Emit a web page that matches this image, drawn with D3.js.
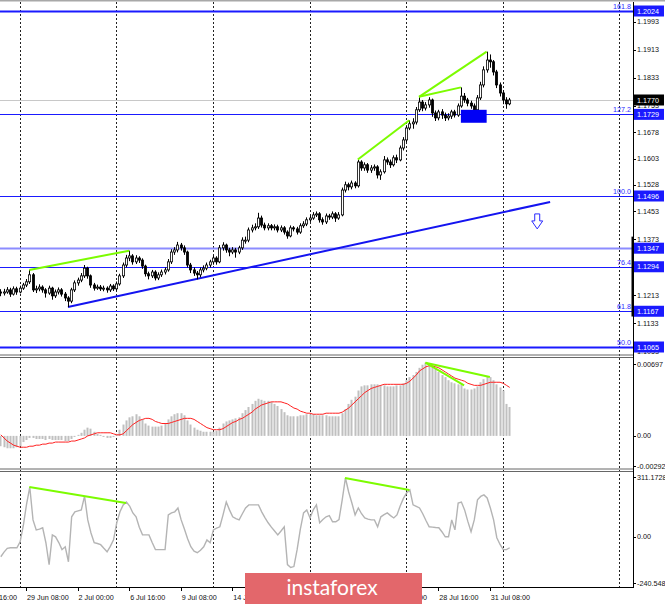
<!DOCTYPE html>
<html>

<head>
  <meta charset="utf-8">
  <title>EURUSD H4</title>
  <style>
    body {
      margin: 0;
      background: #fff;
    }

    svg {
      display: block;
      font-family: "Liberation Sans", Arial, sans-serif;
      font-size: 7.2px;
    }

    .grid line {
      stroke: #222;
      stroke-dasharray: 2, 2;
    }

    .axis-text {
      fill: #111;
    }

    .fib-text {
      fill: #2b2bff;
    }

    .green {
      stroke: #7cfc00;
      stroke-width: 2;
      fill: none;
    }
  </style>
</head>

<body>
  <svg class="chart" width="665" height="604"></svg>

  <script src="https://d3js.org/d3.v7.min.js"></script>
  <script>
    // H4 candles, bar 0 = 26 Jun 16:00 ... bar 158 = 3 Aug 08:00
    var firstOpen = 1.1222;
    var barCloses = [
      1.1219, 1.1222, 1.1228, 1.1216, 1.1231, 1.1222, 1.1233, 1.1242, 1.1251, 1.1271,
      1.1228, 1.1231, 1.1236, 1.1228, 1.1219, 1.1233, 1.1211, 1.1222, 1.1228, 1.1216,
      1.1205, 1.1196, 1.1228, 1.1248, 1.1256, 1.1268, 1.1290, 1.1268, 1.1242, 1.1233,
      1.1236, 1.1231, 1.1233, 1.1228, 1.1239, 1.1231, 1.1245, 1.1268, 1.1299, 1.1319,
      1.1325, 1.1308, 1.1319, 1.1313, 1.1296, 1.1274, 1.1268, 1.1279, 1.1262, 1.1271,
      1.1279, 1.1285, 1.1308, 1.1336, 1.1342, 1.1356, 1.1348, 1.1336, 1.1299, 1.1285,
      1.1276, 1.1271, 1.1285, 1.1290, 1.1299, 1.1308, 1.1319, 1.1308, 1.1348, 1.1356,
      1.1342, 1.1336, 1.1342, 1.1336, 1.1348, 1.1370, 1.1370, 1.1399, 1.1405, 1.1408,
      1.1433, 1.1413, 1.1405, 1.1411, 1.1405, 1.1408, 1.1399, 1.1405, 1.1393, 1.1382,
      1.1405, 1.1402, 1.1393, 1.1411, 1.1416, 1.1428, 1.1433, 1.1442, 1.1445, 1.1428,
      1.1422, 1.1439, 1.1436, 1.1445, 1.1433, 1.1442, 1.1513, 1.1528, 1.1522, 1.1533,
      1.1525, 1.1593, 1.1576, 1.1585, 1.1570, 1.1576, 1.1579, 1.1556, 1.1565, 1.1599,
      1.1593, 1.1585, 1.1605, 1.1599, 1.1633, 1.1656, 1.1690, 1.1702, 1.1707, 1.1742,
      1.1764, 1.1747, 1.1756, 1.1770, 1.1733, 1.1719, 1.1736, 1.1727, 1.1719, 1.1724,
      1.1736, 1.1727, 1.1753, 1.1781, 1.1770, 1.1761, 1.1753, 1.1742, 1.1776, 1.1813,
      1.1856, 1.1884, 1.1879, 1.1850, 1.1813, 1.1790, 1.1770, 1.1759, 1.1770
    ];
    var barHighs = [
      1.1230, 1.1231, 1.1236, 1.1234, 1.1238, 1.1237, 1.1240, 1.1248, 1.1259, 1.1285,
      1.1276, 1.1240, 1.1244, 1.1241, 1.1233, 1.1240, 1.1237, 1.1229, 1.1235, 1.1233,
      1.1222, 1.1210, 1.1234, 1.1255, 1.1263, 1.1276, 1.1299, 1.1294, 1.1272, 1.1248,
      1.1243, 1.1242, 1.1240, 1.1238, 1.1245, 1.1244, 1.1252, 1.1274, 1.1306, 1.1328,
      1.1340, 1.1330, 1.1327, 1.1324, 1.1318, 1.1300, 1.1280, 1.1285, 1.1284, 1.1278,
      1.1286, 1.1292, 1.1316, 1.1344, 1.1350, 1.1365, 1.1362, 1.1355, 1.1340, 1.1305,
      1.1292, 1.1282, 1.1292, 1.1298, 1.1306, 1.1314, 1.1326, 1.1324, 1.1356, 1.1364,
      1.1360, 1.1348, 1.1350, 1.1348, 1.1354, 1.1378, 1.1380, 1.1406, 1.1414, 1.1418,
      1.1448, 1.1440, 1.1420, 1.1418, 1.1416, 1.1415, 1.1414, 1.1412, 1.1410, 1.1398,
      1.1412, 1.1410, 1.1408, 1.1418, 1.1424, 1.1435, 1.1440, 1.1450, 1.1452, 1.1450,
      1.1435, 1.1446, 1.1445, 1.1452, 1.1450, 1.1450, 1.1520, 1.1537, 1.1534, 1.1540,
      1.1538, 1.1600, 1.1598, 1.1592, 1.1590, 1.1584, 1.1586, 1.1584, 1.1572, 1.1610,
      1.1606, 1.1600, 1.1612, 1.1614, 1.1640, 1.1664, 1.1698, 1.1712, 1.1718, 1.1750,
      1.1779, 1.1770, 1.1764, 1.1778, 1.1774, 1.1740, 1.1742, 1.1744, 1.1734, 1.1732,
      1.1742, 1.1742, 1.1760, 1.1806, 1.1790, 1.1776, 1.1768, 1.1760, 1.1784, 1.1822,
      1.1866, 1.1908, 1.1900, 1.1884, 1.1856, 1.1820, 1.1798, 1.1778, 1.1776
    ];
    var barLows = [
      1.1210, 1.1212, 1.1217, 1.1208, 1.1212, 1.1214, 1.1218, 1.1228, 1.1236, 1.1245,
      1.1222, 1.1219, 1.1224, 1.1220, 1.1206, 1.1214, 1.1200, 1.1205, 1.1215, 1.1209,
      1.1196, 1.1179, 1.1190, 1.1222, 1.1240, 1.1250, 1.1262, 1.1260, 1.1234, 1.1226,
      1.1228, 1.1225, 1.1224, 1.1220, 1.1222, 1.1225, 1.1226, 1.1240, 1.1262, 1.1292,
      1.1310, 1.1300, 1.1302, 1.1305, 1.1288, 1.1266, 1.1258, 1.1262, 1.1255, 1.1256,
      1.1265, 1.1272, 1.1280, 1.1302, 1.1328, 1.1335, 1.1340, 1.1328, 1.1292, 1.1276,
      1.1268, 1.1258, 1.1264, 1.1278, 1.1284, 1.1292, 1.1300, 1.1300, 1.1304, 1.1340,
      1.1334, 1.1324, 1.1330, 1.1320, 1.1330, 1.1342, 1.1360, 1.1364, 1.1392, 1.1398,
      1.1402, 1.1406, 1.1398, 1.1398, 1.1398, 1.1398, 1.1392, 1.1393, 1.1386, 1.1374,
      1.1378, 1.1395, 1.1386, 1.1388, 1.1405, 1.1410, 1.1422, 1.1428, 1.1436, 1.1420,
      1.1414, 1.1416, 1.1428, 1.1430, 1.1422, 1.1428, 1.1438, 1.1506, 1.1512, 1.1515,
      1.1518, 1.1520, 1.1568, 1.1568, 1.1562, 1.1562, 1.1568, 1.1546, 1.1542, 1.1560,
      1.1585, 1.1576, 1.1580, 1.1590, 1.1595, 1.1626, 1.1650, 1.1684, 1.1688, 1.1700,
      1.1736, 1.1738, 1.1740, 1.1748, 1.1722, 1.1710, 1.1712, 1.1716, 1.1710, 1.1712,
      1.1716, 1.1720, 1.1722, 1.1748, 1.1762, 1.1752, 1.1745, 1.1726, 1.1738, 1.1770,
      1.1806, 1.1848, 1.1862, 1.1840, 1.1804, 1.1780, 1.1758, 1.1745, 1.1755
    ];

    var macdHist = [
      -0.0010, -0.0011, -0.0012, -0.0012, -0.0012, -0.0011, -0.0010, -0.0006, -0.0004, -0.0002,
      -0.0002, -0.0003, -0.0003, -0.0003, -0.0004, -0.0003, -0.0004, -0.0004, -0.0004, -0.0004,
      -0.0005, -0.0005, -0.0003, -0.0001, 0.0001, 0.0003, 0.0006, 0.0008, 0.0007, 0.0004,
      0.0002, 0.0001, -0.0001, -0.0002, -0.0002, -0.0001, 0.0002, 0.0006, 0.0011, 0.0015,
      0.0018, 0.0019, 0.0021, 0.0019, 0.0016, 0.0012, 0.0010, 0.0009, 0.0009, 0.0009,
      0.0010, 0.0012, 0.0016, 0.0019, 0.0021, 0.0022, 0.0022, 0.0020, 0.0015, 0.0011,
      0.0008, 0.0006, 0.0005, 0.0004, 0.0004, 0.0004, 0.0004, 0.0005, 0.0008, 0.0012,
      0.0014, 0.0015, 0.0016, 0.0017, 0.0018, 0.0022, 0.0025, 0.0028, 0.0031, 0.0034,
      0.0036, 0.0035, 0.0034, 0.0034, 0.0033, 0.0031, 0.0029, 0.0026, 0.0023, 0.0020,
      0.0019, 0.0019, 0.0019, 0.0020, 0.0020, 0.0021, 0.0021, 0.0021, 0.0020, 0.0020,
      0.0020, 0.0020, 0.0019, 0.0019, 0.0019, 0.0019, 0.0022, 0.0026, 0.0031, 0.0035,
      0.0038, 0.0044, 0.0048, 0.0049, 0.0049, 0.0050, 0.0050, 0.0050, 0.0049, 0.0049,
      0.0048, 0.0048, 0.0048, 0.0049, 0.0049, 0.0051, 0.0054, 0.0057, 0.0059, 0.0062,
      0.0066, 0.0069, 0.0071, 0.0070, 0.0068, 0.0065, 0.0062, 0.0059, 0.0057, 0.0054,
      0.0052, 0.0051, 0.0050, 0.0050, 0.0046, 0.0045, 0.0045, 0.0046, 0.0048, 0.0052,
      0.0055, 0.0058, 0.0057, 0.0054, 0.0050, 0.0047, 0.0044, 0.0031, 0.0028
    ];
    var macdSignal = [
      0.0001, -0.0002, -0.0005, -0.0007, -0.0009, -0.0010, -0.0011, -0.0011, -0.0011, -0.0010,
      -0.0010, -0.0009, -0.0009, -0.0008, -0.0008, -0.0007, -0.0007, -0.0006, -0.0006, -0.0006,
      -0.0006, -0.0006, -0.0005, -0.0005, -0.0004, -0.0003, -0.0002, 0.0000, 0.0001, 0.0002,
      0.0003, 0.0003, 0.0003, 0.0003, 0.0003, 0.0002, 0.0001, 0.0001, 0.0002, 0.0005,
      0.0008, 0.0011, 0.0013, 0.0015, 0.0016, 0.0017, 0.0017, 0.0016, 0.0014, 0.0013,
      0.0012, 0.0012, 0.0012, 0.0013, 0.0014, 0.0015, 0.0016, 0.0017, 0.0017, 0.0017,
      0.0016, 0.0014, 0.0012, 0.0010, 0.0008, 0.0007, 0.0006, 0.0006, 0.0006, 0.0007,
      0.0009, 0.0011, 0.0013, 0.0014, 0.0016, 0.0017, 0.0019, 0.0021, 0.0023, 0.0026,
      0.0028, 0.0030, 0.0031, 0.0032, 0.0033, 0.0033, 0.0033, 0.0033, 0.0032, 0.0031,
      0.0029, 0.0027, 0.0026, 0.0024, 0.0023, 0.0022, 0.0022, 0.0021, 0.0021, 0.0021,
      0.0021, 0.0022, 0.0022, 0.0022, 0.0022, 0.0022, 0.0023, 0.0025, 0.0027, 0.0030,
      0.0033, 0.0036, 0.0039, 0.0042, 0.0044, 0.0046, 0.0047, 0.0048, 0.0049, 0.0050,
      0.0050, 0.0050, 0.0050, 0.0050, 0.0050, 0.0050, 0.0051, 0.0053, 0.0056, 0.0059,
      0.0063, 0.0065, 0.0067, 0.0068, 0.0068, 0.0067, 0.0066, 0.0064, 0.0062, 0.0060,
      0.0058, 0.0056, 0.0055, 0.0054, 0.0053, 0.0051, 0.0050, 0.0049, 0.0049, 0.0049,
      0.0050, 0.0051, 0.0052, 0.0052, 0.0052, 0.0052, 0.0051, 0.0049, 0.0047
    ];
    var cciValues = [
      -104, -80, -60, -57, -57, -57, -26, 60, 170, 259,
      88, 36, 40, 47, -31, -145, 10, 0, -30, -67,
      -52, -130, 104, 130, 135, 140, 212, 88, 20, -31,
      -35, -41, -60, -78, -50, -16, 73, 130, 166, 181,
      160, 124, 104, 50, 10, 10, 10, -30, -67, -67,
      -67, -67, 114, 124, 130, 150, 88, 40, -10, -52,
      -75, -83, -70, -52, -16, -31, 36, 45, 52, 114,
      181, 140, 104, 95, 88, 120, 150, 166, 166, 166,
      166, 130, 100, 73, 50, 30, 10, 30, 52, -145,
      -160, -155, -67, 40, 124, 140, 98, 140, 166, 73,
      90, 104, 110, 78, 78, 90, 192, 306, 233, 176,
      114, 150, 120, 98, 92, 88, 88, 52, 104, 115,
      124, 110, 98, 114, 160, 200, 228, 244, 166, 158,
      150, 120, 85, 52, 50, 48, 47, 25, 0, 0,
      88, 36, 176, 181, 140, 80, 26, 88, 192, 210,
      218, 202, 150, 88, -5, -40, -67, -67, -57
    ];

    var dateLabels = ['24 Jun 16:00', '29 Jun 08:00', '2 Jul 00:00', '6 Jul 16:00', '9 Jul 08:00', '14 Jul 00:00',
      '16 Jul 16:00', '21 Jul 08:00', '24 Jul 00:00', '28 Jul 16:00', '31 Jul 08:00'];
    var dateLabelBars = [-8, 8, 24, 40, 56, 72, 88, 104, 120, 136, 152];
    var gridBars = [6, 36, 66, 96, 126, 156, 192];

    var priceTicks = [1.1993, 1.1913, 1.1833, 1.1753, 1.1678, 1.1603, 1.1528, 1.1453, 1.1373, 1.1293, 1.1213, 1.1133, 1.1053];
    var levelPrices = [1.2024, 1.1729, 1.1496, 1.1347, 1.1294, 1.1167, 1.1065];
    var levelFibs = ['161.8', '127.2', '100.0', '', '76.4', '61.8', '50.0'];
    var lastPrice = 1.1770;

    var macdTicks = [0.00697, 0, -0.00292];
    var macdTickLabels = ['0.00697', '0.00', '-0.00292'];
    var cciTicks = [311.1728, 0, -240.548];
    var cciTickLabels = ['311.1728', '0.00', '-240.548'];

    // drawn objects: [bar, value] pairs
    var priceGreenLines = [
      [[9, 1.1285], [40, 1.1340]],
      [[111, 1.1600], [127, 1.1712]],
      [[130, 1.1779], [143, 1.1806]],
      [[130, 1.1779], [151, 1.1908]]
    ];
    var macdGreenLines = [
      [[132, 0.0071], [152, 0.0057]],
      [[132, 0.0071], [144, 0.0049]]
    ];
    var cciGreenLines = [
      [[9, 259], [39, 176]],
      [[107, 306], [127, 244]]
    ];
    var trendLine = [[21, 1.1179], [170.7, 1.1479]];
    var supportBox = { bar0: 143, bar1: 151, top: 1.1742, bottom: 1.1705 };
    var arrowMark = { bar: 166.7, price: 1.1422 };

    var svg = d3.select('svg.chart');
    var plotRight = 633;
    var axisBottom = 587;

    var x = d3.scaleLinear().domain([0, 158]).range([0.3, 509.2]);
    var yPrice = d3.scaleLinear().domain([1.1065, 1.2024]).range([347, 11]);
    var yMacd = d3.scaleLinear().domain([-0.00292, 0.00697]).range([466, 364]);
    var yCci = d3.scaleLinear().domain([-240.548, 311.1728]).range([583, 477]);

    function px(v) { return Math.round(v) + 0.5; }

    svg.append('rect').attr('width', 665).attr('height', 604).attr('fill', '#fff');
    svg.append('line').attr('x1', 0).attr('x2', 665).attr('y1', 0.5).attr('y2', 0.5)
      .attr('stroke', '#a8a8a8').attr('stroke-width', 2);

    // weekly grid
    svg.append('g').attr('class', 'grid').selectAll('line')
      .data(gridBars).enter().append('line')
      .attr('x1', function(d) { return px(x(d)); })
      .attr('x2', function(d) { return px(x(d)); })
      .attr('y1', 2).attr('y2', axisBottom);

    // ---- price panel ----
    svg.append('line')
      .attr('x1', 0).attr('x2', plotRight)
      .attr('y1', px(yPrice(lastPrice))).attr('y2', px(yPrice(lastPrice)))
      .attr('stroke', '#c8c8c8');

    svg.append('g').selectAll('line')
      .data(levelPrices).enter().append('line')
      .attr('x1', 0).attr('x2', plotRight)
      .attr('y1', function(d) { return px(yPrice(d)); })
      .attr('y2', function(d) { return px(yPrice(d)); })
      .attr('stroke', function(d, i) { return levelFibs[i] === '' ? '#8c8cff' : '#1a1aff'; })
      .attr('stroke-width', function(d, i) { return (i === 0 || i === levelPrices.length - 1 || levelFibs[i] === '') ? 2 : 1.2; });

    svg.append('g').selectAll('text')
      .data(levelPrices).enter().append('text')
      .attr('class', 'fib-text')
      .attr('x', plotRight - 2)
      .attr('y', function(d) { return yPrice(d) - 2; })
      .attr('text-anchor', 'end')
      .text(function(d, i) { return levelFibs[i]; });

    svg.append('line')
      .attr('x1', x(trendLine[0][0])).attr('y1', yPrice(trendLine[0][1]))
      .attr('x2', x(trendLine[1][0])).attr('y2', yPrice(trendLine[1][1]))
      .attr('stroke', '#1414f0').attr('stroke-width', 2);

    var candles = svg.append('g').selectAll('g')
      .data(barCloses).enter().append('g');

    candles.append('line')
      .attr('x1', function(d, i) { return px(x(i)); })
      .attr('x2', function(d, i) { return px(x(i)); })
      .attr('y1', function(d, i) { return yPrice(barHighs[i]); })
      .attr('y2', function(d, i) { return yPrice(barLows[i]); })
      .attr('stroke', '#000');

    candles.append('rect')
      .attr('x', function(d, i) { return Math.round(x(i)) - 0.6; })
      .attr('width', 2.2)
      .attr('y', function(d, i) {
        var open = i === 0 ? firstOpen : barCloses[i - 1];
        return yPrice(Math.max(open, d));
      })
      .attr('height', function(d, i) {
        var open = i === 0 ? firstOpen : barCloses[i - 1];
        return Math.max(1, Math.abs(yPrice(open) - yPrice(d)));
      })
      .attr('fill', function(d, i) {
        var open = i === 0 ? firstOpen : barCloses[i - 1];
        return d >= open ? '#fff' : '#000';
      })
      .attr('stroke', '#000')
      .attr('stroke-width', 0.8);

    svg.append('rect')
      .attr('x', x(supportBox.bar0))
      .attr('width', x(supportBox.bar1) - x(supportBox.bar0))
      .attr('y', yPrice(supportBox.top))
      .attr('height', yPrice(supportBox.bottom) - yPrice(supportBox.top))
      .attr('fill', '#0000f5');

    var priceLine = d3.line()
      .x(function(d) { return x(d[0]); })
      .y(function(d) { return yPrice(d[1]); });

    svg.append('g').selectAll('path')
      .data(priceGreenLines).enter().append('path')
      .attr('class', 'green')
      .attr('d', priceLine);

    // down arrow
    var ax = x(arrowMark.bar);
    var ay = yPrice(arrowMark.price);
    svg.append('path')
      .attr('d', 'M' + (ax - 2.5) + ',' + (ay - 8) + 'H' + (ax + 2.5) + 'V' + (ay - 1) + 'H' + (ax + 5.5) +
        'L' + ax + ',' + (ay + 7) + 'L' + (ax - 5.5) + ',' + (ay - 1) + 'H' + (ax - 2.5) + 'Z')
      .attr('fill', '#fff').attr('stroke', '#2a2aff').attr('stroke-width', 1);

    // ---- MACD panel ----
    svg.append('g').selectAll('rect')
      .data(macdHist).enter().append('rect')
      .attr('x', function(d, i) { return Math.round(x(i)) - 0.5; })
      .attr('width', 2)
      .attr('y', function(d) { return Math.min(yMacd(d), yMacd(0)); })
      .attr('height', function(d) { return Math.abs(yMacd(d) - yMacd(0)); })
      .attr('fill', '#c0c0c0');

    svg.append('path')
      .datum(macdSignal)
      .attr('d', d3.line().x(function(d, i) { return x(i) + 0.5; }).y(function(d) { return yMacd(d); }))
      .attr('fill', 'none').attr('stroke', '#ff2020').attr('stroke-width', 1);

    svg.append('g').selectAll('path')
      .data(macdGreenLines).enter().append('path')
      .attr('class', 'green')
      .attr('d', d3.line().x(function(d) { return x(d[0]); }).y(function(d) { return yMacd(d[1]); }));

    // ---- CCI panel ----
    svg.append('path')
      .datum(cciValues)
      .attr('d', d3.line().x(function(d, i) { return x(i) + 0.5; }).y(function(d) { return yCci(d); }))
      .attr('fill', 'none').attr('stroke', '#b4b4b4').attr('stroke-width', 1.4);

    svg.append('g').selectAll('path')
      .data(cciGreenLines).enter().append('path')
      .attr('class', 'green')
      .attr('d', d3.line().x(function(d) { return x(d[0]); }).y(function(d) { return yCci(d[1]); }));

    // ---- frames ----
    [355, 357.5, 469, 471.5].forEach(function(yy) {
      svg.append('line').attr('x1', 0).attr('x2', plotRight).attr('y1', yy).attr('y2', yy)
        .attr('stroke', '#666').attr('stroke-width', 1);
    });
    svg.append('line').attr('x1', 0).attr('x2', plotRight).attr('y1', axisBottom + 0.5).attr('y2', axisBottom + 0.5)
      .attr('stroke', '#000');
    svg.append('line').attr('x1', plotRight + 0.5).attr('x2', plotRight + 0.5).attr('y1', 2).attr('y2', axisBottom + 1)
      .attr('stroke', '#000');
    svg.append('line').attr('x1', plotRight - 0.5).attr('x2', plotRight - 0.5)
      .attr('y1', yPrice(1.1380)).attr('y2', yPrice(1.1152))
      .attr('stroke', '#000').attr('stroke-width', 2);

    // right axis ticks
    function rightAxis(values, labels, scale) {
      var g = svg.append('g');
      g.selectAll('line').data(values).enter().append('line')
        .attr('x1', plotRight).attr('x2', plotRight + 3)
        .attr('y1', function(d) { return px(scale(d)); })
        .attr('y2', function(d) { return px(scale(d)); })
        .attr('stroke', '#000');
      g.selectAll('text').data(values).enter().append('text')
        .attr('class', 'axis-text')
        .attr('x', plotRight + 4)
        .attr('y', function(d) { return scale(d); })
        .attr('dy', '0.35em')
        .text(function(d, i) { return labels[i]; });
    }

    rightAxis(priceTicks, priceTicks.map(function(d) { return d.toFixed(4); }), yPrice);
    rightAxis(macdTicks, macdTickLabels, yMacd);
    rightAxis(cciTicks, cciTickLabels, yCci);

    var boxes = svg.append('g').selectAll('g')
      .data(levelPrices.concat([lastPrice])).enter().append('g');
    boxes.append('rect')
      .attr('x', plotRight + 1)
      .attr('width', 30)
      .attr('y', function(d) { return yPrice(d) - 5.5; })
      .attr('height', 11)
      .attr('fill', function(d, i) { return i === levelPrices.length ? '#000' : '#1a1aff'; });
    boxes.append('text')
      .attr('x', plotRight + 4)
      .attr('y', function(d) { return yPrice(d); })
      .attr('dy', '0.35em')
      .attr('fill', '#fff')
      .text(function(d) { return d.toFixed(4); });

    // time axis
    var timeAxis = svg.append('g');
    timeAxis.selectAll('line').data(dateLabelBars).enter().append('line')
      .attr('x1', function(d) { return px(x(d)); })
      .attr('x2', function(d) { return px(x(d)); })
      .attr('y1', axisBottom).attr('y2', axisBottom + 4)
      .attr('stroke', '#000');
    timeAxis.selectAll('text').data(dateLabelBars).enter().append('text')
      .attr('class', 'axis-text')
      .attr('x', function(d) { return x(d) + 1; })
      .attr('y', 600)
      .text(function(d, i) { return dateLabels[i]; });

    // watermark
    svg.append('rect')
      .attr('x', 245).attr('y', 573).attr('width', 177).attr('height', 40)
      .attr('fill', '#e3676b');
    svg.append('text')
      .attr('x', 332).attr('y', 595)
      .attr('text-anchor', 'middle')
      .attr('fill', '#fff')
      .style('font-family', 'Lato, "Open Sans", sans-serif')
      .style('font-size', '21px')
      .text('instaforex');
  </script>
</body>

</html>
